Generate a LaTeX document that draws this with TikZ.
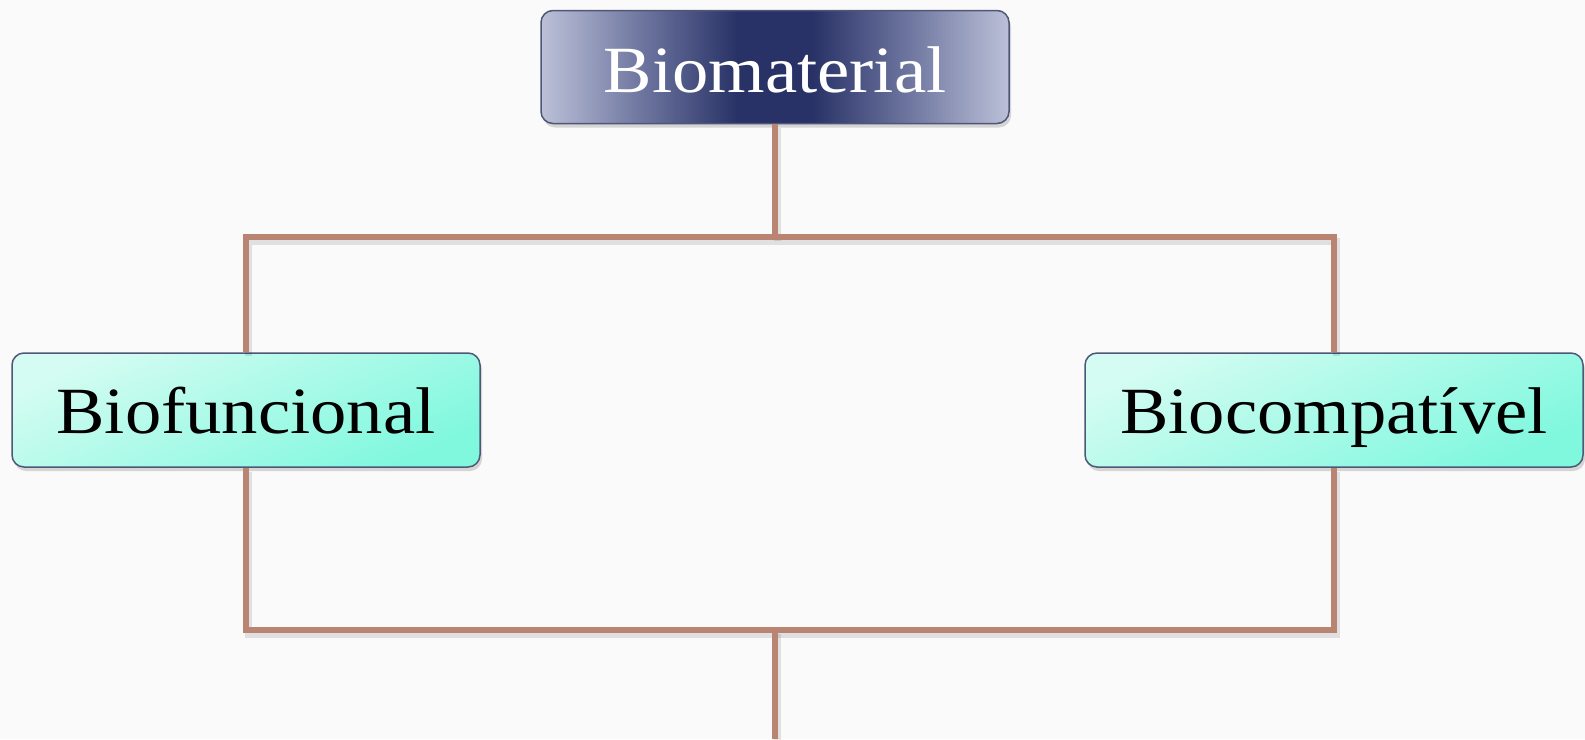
\documentclass[tikz,border=0pt]{standalone}
\usepackage{fontspec}
\setmainfont[FakeStretch=1.1]{Liberation Serif}
\usepackage{tikz}
\usetikzlibrary{positioning, shadows, backgrounds}
\definecolor{navydark}{RGB}{40,50,102}
\definecolor{navysoft}{RGB}{108,116,158}
\definecolor{navylight}{RGB}{188,193,216}
\definecolor{aqualight}{RGB}{212,252,242}
\definecolor{aquadark}{RGB}{128,248,222}
\definecolor{boxedge}{RGB}{78,88,118}
\definecolor{linkcol}{RGB}{186,132,114}
\pgfdeclarehorizontalshading{headglow}{100bp}{color(0bp)=(navylight); color(25bp)=(navylight); color(36bp)=(navysoft); color(46bp)=(navydark); color(50bp)=(navydark); color(54bp)=(navydark); color(64bp)=(navysoft); color(75bp)=(navylight); color(100bp)=(navylight)}
\tikzset{
  headbox/.style={draw=boxedge, line width=1.5pt, rectangle, rounded corners=12pt, shading=headglow, minimum width=468pt, minimum height=113pt, inner sep=0pt, text height=60pt, text depth=10pt, font=\fontsize{66}{70}\selectfont, text=white, drop shadow={opacity=0.3, shadow xshift=2pt, shadow yshift=-4pt}},
  kindbox/.style={draw=boxedge, line width=1.5pt, rectangle, rounded corners=12pt, top color=aqualight, bottom color=aquadark, shading angle=25, minimum height=114pt, inner sep=0pt, text height=60pt, text depth=14pt, font=\fontsize{66}{70}\selectfont, drop shadow={opacity=0.3, shadow xshift=2pt, shadow yshift=-4pt}},
  link/.style={draw=linkcol, line width=6pt, preaction={draw=black, opacity=0.1, line width=7pt, transform canvas={xshift=2pt, yshift=-4pt}}}
}

\begin{document}
\begin{tikzpicture}[x=1pt, y=1pt]
  % background
  \fill[black!2] (0,0) rectangle (1585,-739);
  \useasboundingbox (0,0) rectangle (1585,-739);

  % the three boxes
  \node[headbox] (mat) at (775,-67) {Biomaterial};
  \node[kindbox, minimum width=468pt] (func) at (246,-410) {Biofuncional};
  \node[kindbox, minimum width=498pt] (compat) at (1334,-410) {Biocompatível};

  % junctions
  \coordinate (jtop) at (775,-237);
  \coordinate (jbot) at (775,-630);
  \coordinate (tail) at (775,-739);

  % links
  \draw[link] (mat.south) -- (jtop);
  \draw[link] (func.north) |- (jtop) -| (compat.north);
  \draw[link] (func.south) |- (jbot) -| (compat.south);
  \draw[link] (jbot) -- (tail);
\end{tikzpicture}
\end{document}
